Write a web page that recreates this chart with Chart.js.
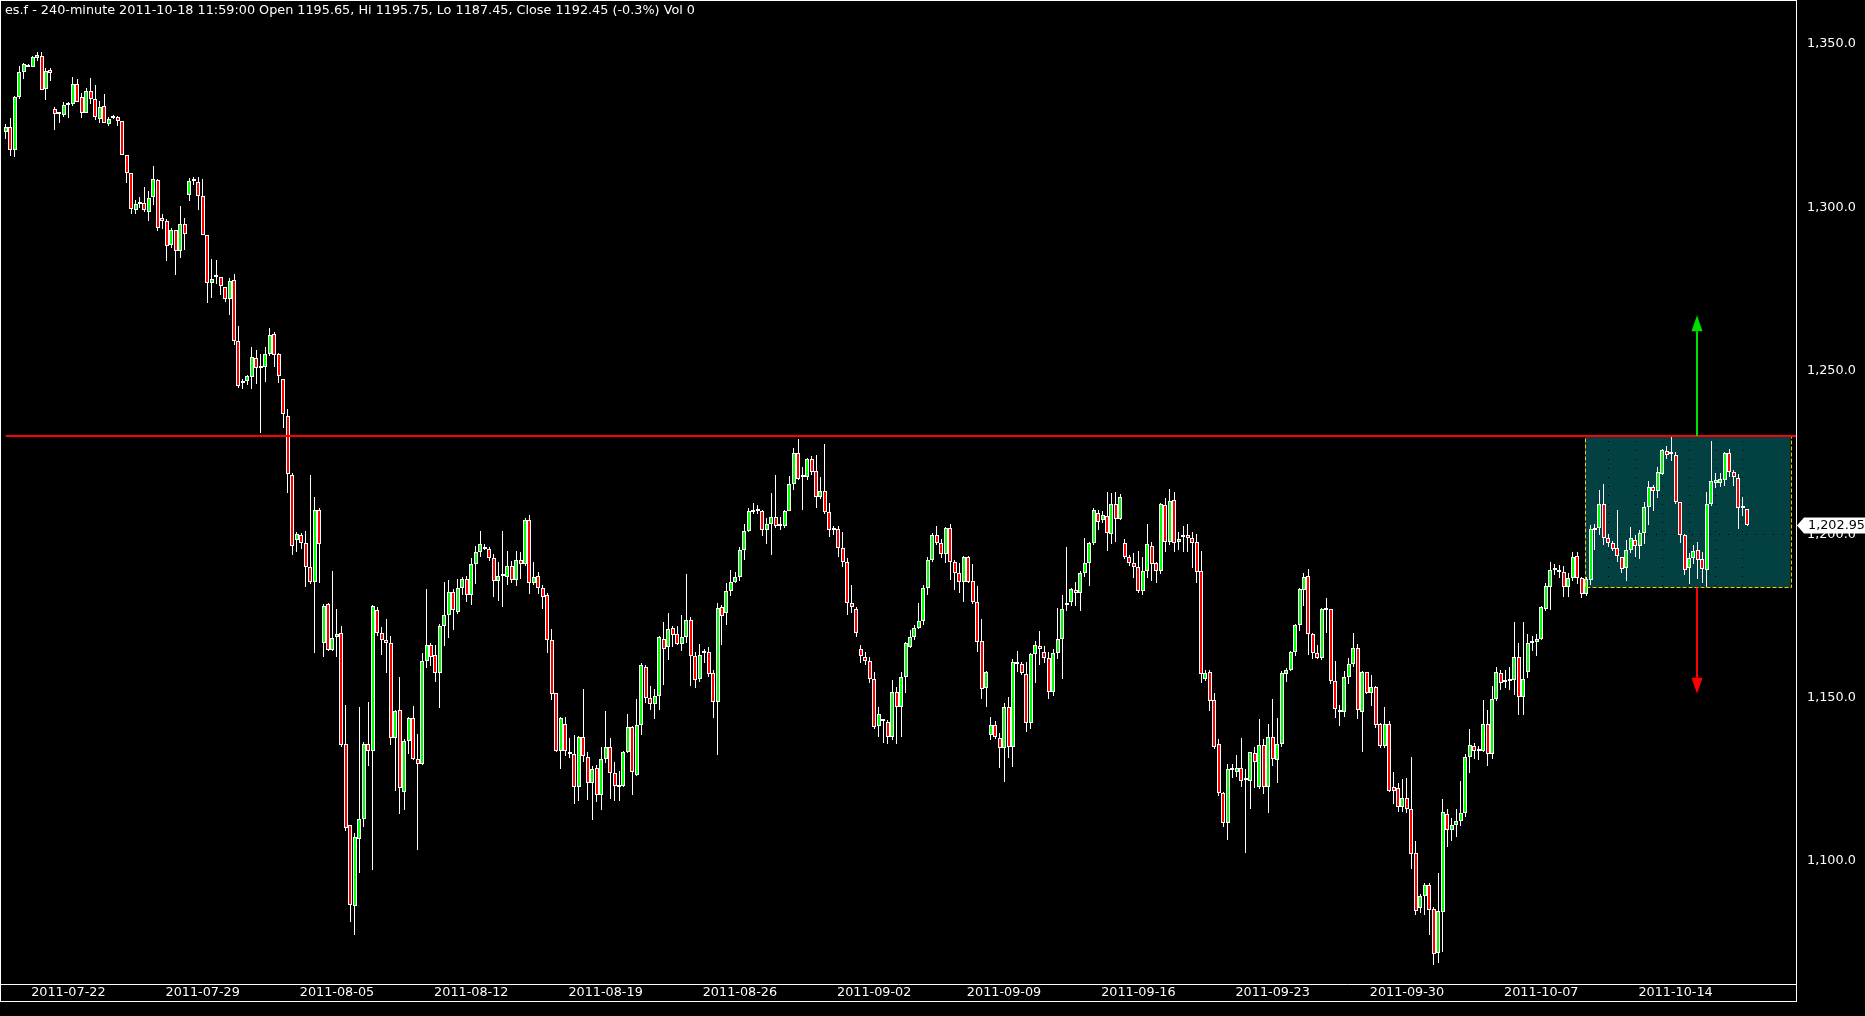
<!DOCTYPE html>
<html>
<head>
<meta charset="utf-8">
<script src="https://cdn.jsdelivr.net/npm/chart.js@4/dist/chart.umd.min.js"></script>
<style>
html,body{margin:0;padding:0;background:#000;overflow:hidden}
#wrap{width:1865px;height:1016px;position:relative}
canvas{display:block}
</style>
</head>
<body>
<div id="wrap"><canvas id="c" width="1865" height="1016"></canvas></div>
<script>
// ---------------- data ----------------
const headerText = 'es.f - 240-minute 2011-10-18 11:59:00 Open 1195.65, Hi 1195.75, Lo 1187.45, Close 1192.45 (-0.3%) Vol 0';

const dateLabels = ['2011-07-22','2011-07-29','2011-08-05','2011-08-12','2011-08-19','2011-08-26','2011-09-02','2011-09-09','2011-09-16','2011-09-23','2011-09-30','2011-10-07','2011-10-14'];
const dateLabelIndex = [14, 44, 74, 104, 134, 164, 194, 223, 253, 283, 313, 343, 373];
const priceTicks = [1100, 1150, 1200, 1250, 1300, 1350];

const opens = [
1323.0,1324.5,1317.6,1333.7,1341.3,1343.6,1342.9,1345.7,1346.3,1336.3,
1341.9,1330.0,1328.6,1328.2,1331.4,1331.5,1337.7,1333.8,1328.8,1335.5,
1333.1,1326.9,1330.9,1325.4,1327.3,1327.6,1326.4,1315.9,1310.6,1299.2,
1301.2,1301.4,1298.7,1303.3,1308.4,1296.6,1295.8,1288.6,1293.1,1286.6,
1294.8,1303.7,1308.2,1307.9,1303.6,1291.4,1276.8,1278.8,1278.8,1275.7,
1271.9,1277.7,1259.0,1246.2,1246.8,1248.2,1253.8,1250.8,1251.1,1255.1,
1261.2,1255.0,1247.5,1236.2,1218.0,1198.2,1199.7,1197.3,1189.9,1185.3,
1207.5,1166.6,1178.5,1164.7,1168.4,1169.7,1135.9,1110.9,1086.1,1106.7,
1112.7,1135.9,1133.6,1176.7,1169.7,1167.5,1166.6,1137.7,1146.2,1121.1,
1136.7,1143.7,1131.2,1129.7,1161.1,1166.0,1162.9,1157.4,1172.0,1175.2,
1182.2,1176.3,1183.4,1186.3,1181.3,1190.8,1194.5,1196.2,1195.5,1192.7,
1185.7,1187.2,1186.9,1190.2,1186.0,1192.0,1190.8,1204.3,1185.0,1187.2,
1183.4,1181.3,1167.5,1151.3,1133.8,1141.8,1133.5,1132.6,1122.5,1137.9,
1131.9,1123.8,1128.4,1120.1,1131.3,1135.0,1127.0,1123.0,1123.0,1133.5,
1141.1,1126.3,1141.5,1159.5,1149.8,1148.1,1150.6,1168.0,1165.6,1171.2,
1169.5,1166.4,1168.4,1173.6,1162.8,1155.8,1163.6,1163.9,1157.4,1148.6,
1177.6,1175.8,1182.7,1185.5,1187.0,1195.1,1201.1,1206.8,1207.6,1207.0,
1201.3,1203.0,1205.2,1202.5,1202.5,1207.2,1215.3,1224.7,1217.6,1217.4,
1223.1,1219.3,1211.3,1213.3,1206.9,1201.5,1201.5,1195.7,1191.6,1178.8,
1177.0,1164.8,1162.5,1161.2,1155.6,1141.4,1142.8,1142.4,1137.8,1151.8,
1147.0,1156.2,1165.6,1168.6,1171.4,1173.3,1183.4,1192.1,1199.9,1197.2,
1193.8,1201.8,1191.6,1188.2,1185.3,1192.9,1185.7,1179.3,1167.3,1152.8,
1138.5,1141.7,1137.5,1134.5,1147.0,1134.8,1160.5,1160.2,1157.1,1142.1,
1163.2,1165.9,1164.1,1162.0,1151.6,1163.5,1168.0,1178.2,1179.3,1183.0,
1181.9,1188.2,1191.3,1197.2,1206.6,1204.3,1205.6,1200.0,1209.2,1204.6,
1197.2,1193.1,1191.1,1190.1,1182.7,1188.7,1196.4,1191.1,1188.8,1208.9,
1197.7,1210.4,1197.7,1199.0,1199.8,1198.8,1197.5,1188.7,1155.6,1157.7,
1149.3,1135.8,1120.7,1111.5,1128.4,1127.2,1128.6,1124.7,1124.6,1133.0,
1122.7,1135.4,1122.5,1138.0,1130.9,1135.7,1157.2,1158.4,1163.9,1172.2,
1182.9,1187.2,1169.6,1163.5,1162.0,1176.8,1177.0,1155.2,1145.7,1145.5,
1156.4,1160.2,1165.3,1145.7,1157.7,1151.3,1153.2,1141.9,1135.2,1141.9,
1122.5,1122.2,1116.4,1119.2,1115.8,1102.3,1085.7,1089.4,1092.7,1085.3,
1071.8,1084.4,1114.3,1109.5,1111.1,1112.2,1114.7,1131.7,1135.2,1133.6,
1133.6,1142.0,1132.8,1149.6,1157.6,1154.7,1155.1,1155.3,1162.3,1150.1,
1157.7,1166.6,1166.9,1167.8,1177.2,1183.8,1189.0,1188.6,1188.4,1183.8,
1186.6,1193.2,1186.6,1181.8,1186.0,1201.2,1202.0,1209.3,1198.9,1197.2,
1195.9,1192.9,1189.6,1195.3,1198.1,1196.5,1200.3,1208.3,1214.3,1213.1,
1218.3,1225.4,1224.5,1224.1,1209.7,1199.9,1189.6,1192.7,1195.3,1192.3,
1189.0,1209.2,1215.8,1215.8,1216.6,1224.7,1218.9,1217.1,1208.1,1207.6
];
const highs = [
1325.4,1327.3,1334.1,1343.3,1344.3,1344.0,1346.2,1347.5,1347.5,1342.5,
1342.5,1330.7,1328.6,1332.3,1332.2,1339.9,1339.3,1334.9,1336.4,1339.5,
1337.4,1332.5,1334.7,1327.6,1328.2,1327.9,1326.4,1315.9,1310.6,1302.2,
1303.3,1306.2,1305.0,1312.7,1308.6,1297.9,1296.3,1293.8,1293.1,1300.4,
1296.9,1309.0,1309.2,1309.4,1308.6,1291.4,1284.3,1284.0,1278.8,1275.7,
1278.4,1279.6,1263.7,1247.6,1248.6,1257.3,1256.4,1255.1,1257.2,1263.1,
1262.0,1255.5,1247.5,1238.3,1218.6,1200.6,1200.4,1201.1,1218.0,1211.5,
1208.0,1178.6,1179.0,1188.6,1177.0,1172.0,1147.8,1110.9,1108.5,1147.2,
1136.5,1148.6,1178.4,1177.7,1171.7,1174.1,1168.8,1146.2,1156.2,1137.3,
1144.0,1147.5,1138.9,1163.5,1183.1,1166.6,1166.0,1172.5,1185.3,1185.9,
1183.1,1186.2,1186.8,1187.1,1192.6,1196.5,1200.9,1196.9,1196.0,1193.9,
1191.4,1201.0,1195.0,1191.7,1194.9,1194.6,1205.0,1205.8,1191.6,1188.4,
1184.5,1181.9,1170.9,1151.3,1144.2,1144.2,1137.6,1138.5,1138.2,1152.6,
1133.5,1129.2,1129.5,1134.8,1145.8,1137.5,1130.4,1127.6,1133.8,1145.0,
1141.4,1149.6,1160.7,1159.9,1153.4,1152.6,1168.8,1173.1,1176.0,1171.9,
1171.9,1175.3,1187.8,1174.7,1164.0,1166.4,1164.9,1165.5,1158.4,1178.9,
1178.2,1185.0,1189.0,1188.5,1196.0,1203.1,1208.0,1209.5,1209.0,1207.5,
1205.0,1212.6,1218.1,1205.4,1207.5,1217.9,1226.4,1229.1,1220.6,1223.3,
1224.0,1224.3,1217.6,1227.6,1209.5,1202.5,1202.5,1200.6,1192.7,1184.6,
1177.6,1166.1,1163.9,1162.4,1157.9,1147.1,1143.5,1143.1,1155.5,1153.1,
1157.7,1167.0,1170.7,1172.3,1178.9,1184.5,1193.0,1200.3,1202.5,1198.5,
1202.2,1203.1,1192.0,1191.1,1193.4,1193.4,1190.8,1184.2,1174.2,1158.1,
1144.0,1142.9,1139.3,1148.3,1150.1,1161.7,1164.3,1161.0,1160.8,1163.7,
1167.4,1170.3,1165.7,1163.9,1164.8,1177.5,1181.5,1196.0,1183.6,1185.3,
1188.6,1198.9,1197.6,1207.9,1207.4,1207.0,1213.0,1212.6,1213.0,1212.3,
1198.5,1193.5,1194.1,1195.0,1193.0,1203.1,1197.6,1191.6,1209.5,1211.1,
1213.8,1212.9,1200.8,1202.5,1203.1,1200.8,1200.1,1194.8,1158.3,1158.5,
1151.4,1137.2,1121.0,1129.6,1129.8,1132.4,1137.6,1128.1,1133.4,1134.9,
1143.5,1137.2,1141.9,1149.6,1143.8,1158.1,1159.0,1164.2,1172.6,1183.6,
1188.1,1189.3,1169.9,1166.1,1177.4,1180.5,1177.2,1161.3,1147.6,1158.2,
1162.1,1169.9,1166.4,1158.2,1157.9,1157.0,1153.4,1142.1,1147.0,1142.7,
1127.2,1123.8,1125.1,1125.4,1131.8,1106.2,1089.8,1093.3,1093.2,1085.9,
1096.2,1118.9,1116.0,1113.3,1115.9,1124.6,1132.8,1140.4,1136.0,1135.2,
1149.3,1146.2,1153.6,1159.5,1158.4,1158.4,1159.3,1173.2,1166.8,1173.2,
1169.5,1168.7,1169.5,1177.9,1185.2,1191.4,1190.9,1190.5,1190.3,1188.1,
1194.5,1194.7,1186.8,1187.0,1202.7,1203.1,1213.6,1215.3,1200.2,1198.0,
1207.5,1193.1,1198.1,1202.2,1199.6,1201.4,1209.8,1216.2,1215.2,1220.6,
1226.2,1227.0,1229.8,1225.2,1209.9,1200.1,1194.3,1196.6,1197.6,1194.7,
1213.0,1228.5,1218.6,1218.6,1225.1,1226.1,1219.6,1218.3,1211.5,1207.8
];
const lows = [
1320.8,1315.8,1315.5,1333.2,1339.4,1342.9,1342.9,1344.7,1335.8,1333.0,
1338.8,1323.7,1325.7,1327.6,1327.2,1331.0,1332.4,1327.2,1328.8,1331.7,
1326.6,1325.9,1325.7,1325.0,1327.0,1325.0,1315.9,1307.6,1298.1,1298.1,
1299.7,1298.7,1295.9,1300.7,1292.9,1293.3,1283.7,1287.7,1279.3,1284.6,
1287.0,1302.1,1307.0,1299.3,1291.4,1270.6,1272.3,1276.7,1273.2,1271.2,
1267.2,1258.0,1244.8,1244.5,1245.5,1244.5,1246.1,1231.1,1246.7,1254.6,
1251.3,1246.4,1232.5,1212.7,1193.5,1194.6,1195.4,1183.8,1184.8,1163.7,
1185.0,1162.4,1164.2,1164.2,1162.3,1135.0,1109.3,1081.2,1077.3,1096.3,
1110.5,1129.2,1097.1,1168.9,1162.9,1157.5,1135.5,1121.3,1114.5,1115.7,
1132.7,1130.8,1103.3,1129.3,1159.2,1159.6,1154.9,1146.7,1165.9,1168.1,
1170.7,1175.5,1181.4,1179.3,1178.4,1184.7,1192.9,1195.1,1191.7,1180.9,
1179.6,1177.7,1184.6,1185.2,1184.0,1186.2,1190.3,1181.8,1184.5,1181.8,
1177.0,1163.5,1149.4,1133.5,1128.2,1132.0,1131.6,1117.5,1118.4,1130.3,
1118.8,1112.4,1118.1,1115.6,1130.0,1119.1,1118.4,1118.4,1122.5,1133.0,
1120.3,1126.0,1138.5,1148.3,1146.2,1143.4,1146.3,1153.7,1161.5,1165.5,
1166.0,1164.4,1166.7,1153.6,1153.0,1154.9,1160.7,1156.4,1143.8,1132.5,
1166.1,1172.3,1181.2,1185.0,1185.6,1192.0,1200.7,1206.2,1206.2,1199.3,
1196.9,1193.6,1201.9,1201.3,1202.0,1207.0,1213.6,1216.5,1207.5,1216.6,
1218.0,1208.0,1210.9,1206.2,1199.2,1199.7,1193.0,1189.9,1175.3,1175.9,
1168.4,1160.5,1159.9,1154.4,1140.5,1138.0,1136.2,1135.9,1136.9,1135.8,
1138.0,1151.5,1165.3,1167.5,1170.9,1172.3,1181.3,1191.5,1196.7,1192.7,
1191.2,1186.1,1183.0,1182.1,1179.3,1185.0,1178.6,1164.0,1149.6,1147.0,
1136.9,1137.3,1128.6,1124.2,1131.6,1128.8,1157.9,1156.8,1139.6,1140.3,
1154.5,1160.1,1160.5,1149.5,1150.6,1161.9,1155.8,1176.5,1178.0,1178.1,
1176.6,1187.0,1184.2,1196.8,1201.3,1203.4,1194.9,1196.9,1197.6,1204.2,
1192.4,1190.4,1186.6,1182.0,1181.5,1186.7,1185.6,1185.2,1187.9,1194.6,
1196.7,1194.6,1195.1,1194.6,1194.7,1189.7,1185.2,1154.6,1155.0,1146.0,
1134.3,1119.9,1110.5,1106.5,1125.3,1125.8,1122.7,1102.3,1116.0,1122.2,
1122.0,1120.5,1114.8,1129.0,1124.0,1134.9,1154.9,1158.0,1162.6,1170.3,
1178.0,1162.9,1161.9,1161.8,1161.5,1169.8,1154.1,1143.9,1141.2,1144.0,
1154.3,1159.3,1143.3,1133.4,1151.0,1147.3,1140.7,1134.6,1134.7,1121.0,
1117.4,1115.0,1115.0,1114.7,1097.6,1083.6,1084.0,1083.6,1077.3,1068.3,
1068.7,1072.3,1104.3,1106.2,1107.4,1110.7,1113.6,1126.8,1131.2,1131.0,
1133.3,1129.2,1131.1,1148.9,1152.4,1153.0,1152.3,1150.8,1144.8,1144.8,
1156.0,1164.4,1162.6,1167.6,1176.6,1176.9,1187.4,1186.5,1180.9,1180.9,
1185.6,1184.8,1180.4,1181.0,1184.6,1195.2,1199.6,1196.8,1196.1,1195.0,
1191.6,1188.2,1185.8,1194.2,1193.1,1192.5,1196.9,1202.8,1207.2,1211.2,
1218.0,1222.9,1222.5,1209.3,1197.4,1187.5,1184.9,1191.0,1186.4,1185.2,
1183.9,1208.5,1214.2,1214.5,1214.7,1217.4,1214.6,1201.6,1205.7,1202.5
];
const closes = [
1324.7,1317.6,1333.7,1341.3,1343.8,1343.1,1345.9,1346.5,1335.8,1341.7,
1341.0,1328.5,1328.5,1331.2,1331.6,1337.7,1332.4,1328.8,1335.5,1333.1,
1327.6,1330.6,1325.7,1327.0,1327.6,1326.4,1315.9,1310.6,1299.4,1301.0,
1301.0,1299.1,1302.8,1308.6,1293.8,1295.7,1288.3,1293.1,1286.8,1294.8,
1291.8,1308.2,1308.1,1303.6,1291.4,1276.8,1278.0,1278.9,1276.0,1271.9,
1277.4,1259.0,1245.3,1247.0,1248.3,1254.1,1250.8,1250.9,1255.1,1261.1,
1254.8,1248.3,1236.8,1218.5,1196.5,1200.0,1197.3,1189.9,1185.3,1207.5,
1197.0,1178.1,1164.7,1168.1,1169.4,1135.5,1110.0,1086.4,1107.2,1112.7,
1135.9,1133.6,1177.9,1169.7,1167.5,1166.6,1137.7,1145.9,1122.3,1136.7,
1143.7,1131.2,1129.7,1161.1,1166.2,1162.3,1157.4,1172.0,1175.4,1182.2,
1176.8,1183.4,1186.3,1181.3,1190.8,1194.5,1197.1,1195.5,1192.7,1185.7,
1187.1,1187.3,1190.2,1186.0,1192.0,1190.8,1204.3,1185.0,1186.9,1183.4,
1180.7,1167.5,1151.1,1133.8,1143.7,1133.8,1132.6,1122.7,1138.0,1132.2,
1123.8,1128.1,1120.1,1131.1,1135.0,1126.8,1122.9,1122.7,1133.5,1141.1,
1127.3,1141.5,1159.9,1150.0,1147.9,1150.6,1168.5,1165.0,1170.9,1169.2,
1166.4,1168.6,1173.6,1162.8,1155.5,1163.0,1163.5,1157.1,1148.8,1177.3,
1175.1,1182.7,1185.3,1186.8,1195.1,1201.0,1207.0,1207.4,1207.0,1201.3,
1203.0,1205.2,1202.5,1202.6,1207.2,1215.3,1224.7,1216.8,1217.5,1222.9,
1219.1,1211.3,1213.3,1206.9,1201.3,1201.3,1195.7,1191.6,1178.8,1177.6,
1169.7,1162.7,1161.1,1155.6,1141.1,1144.9,1142.9,1138.0,1151.8,1147.2,
1156.2,1166.6,1168.6,1171.2,1173.3,1183.4,1192.1,1199.9,1197.2,1193.8,
1201.8,1191.6,1188.2,1185.3,1192.9,1185.5,1179.1,1167.1,1152.6,1157.7,
1141.7,1137.8,1134.5,1147.0,1134.8,1160.8,1160.2,1157.4,1142.1,1163.2,
1166.0,1164.8,1162.0,1151.6,1163.5,1168.0,1177.2,1179.0,1183.1,1181.9,
1188.2,1191.3,1197.2,1207.4,1203.7,1205.9,1200.3,1209.2,1204.5,1211.5,
1193.1,1191.1,1190.1,1182.7,1188.7,1196.9,1190.8,1188.8,1209.2,1197.7,
1210.2,1197.2,1198.5,1199.8,1198.8,1197.4,1188.5,1157.2,1157.6,1149.1,
1135.0,1120.7,1111.5,1128.0,1127.7,1128.4,1124.6,1124.8,1133.2,1130.2,
1135.4,1122.5,1138.0,1131.1,1135.7,1157.4,1158.4,1163.9,1172.2,1183.2,
1187.0,1169.4,1163.5,1162.0,1177.0,1176.9,1155.2,1146.4,1145.8,1156.4,
1160.2,1165.3,1146.2,1157.9,1151.3,1153.2,1141.6,1135.2,1141.9,1121.5,
1121.3,1116.6,1119.2,1115.8,1102.2,1084.6,1089.4,1092.7,1085.1,1071.6,
1084.6,1114.9,1109.5,1111.1,1112.2,1114.7,1131.7,1135.5,1133.6,1133.8,
1142.0,1132.6,1149.6,1157.7,1154.4,1154.9,1155.3,1162.3,1150.1,1155.6,
1166.6,1167.1,1168.0,1177.7,1184.1,1189.0,1189.1,1188.5,1183.8,1186.6,
1193.1,1186.6,1181.8,1186.4,1201.5,1201.8,1209.3,1198.9,1197.2,1195.6,
1193.2,1189.3,1195.3,1198.9,1196.5,1200.5,1208.3,1214.3,1213.1,1219.1,
1225.9,1224.3,1224.6,1209.7,1199.9,1189.1,1192.7,1195.0,1192.0,1189.2,
1209.2,1216.3,1216.6,1216.8,1224.7,1218.9,1217.4,1208.1,1208.2,1202.95
];

// annotations (data coordinates)
const resistanceLevel = 1230;
const rangeStartIndex = 352.8;
const rangeEndIndex = 398.7;
const rangeLow = 1183.7;
const rangeHigh = 1230;
const arrowIndex = 377.7;
const targetUp = 1267;
const targetDown = 1151.2;
const lastPrice = 1202.95;

// axis ranges
const xMin = -1.27, xMax = 399.9;
const yMin = 1062.36, yMax = 1363.46;

// ---------------- styling ----------------
const UP = '#00ff00';
const DOWN = '#ff0000';
const FONT_FAMILY = "'DejaVu Sans', 'Verdana', sans-serif";
const FONT_SIZE = 12.8;
const FONT = {family: FONT_FAMILY, size: FONT_SIZE};

const wickData = lows.map((l, i) => ({x: i, y: [l, highs[i]]}));
const bodyData = opens.map((o, i) => ({x: i, y: [o, closes[i]]}));
const bodyColors = opens.map((o, i) => closes[i] >= o ? UP : DOWN);

const dayGridIndex = [];
for (let g = 4; g < closes.length; g += 6) dayGridIndex.push(g);
const xTickValues = dayGridIndex.concat(dateLabelIndex).sort((a, b) => a - b);

const fmtPrice = v => Number(v).toLocaleString('en-US', {minimumFractionDigits: 1, maximumFractionDigits: 1});

// snap bar elements to whole pixels so candles render crisp like the original
const pixelSnap = {
  id: 'pixelSnap',
  beforeDatasetsDraw(chart) {
    chart.data.datasets.forEach((ds, di) => {
      const meta = chart.getDatasetMeta(di);
      meta.data.forEach(el => {
        const w = el.width;
        const left = Math.round(el.x - w / 2);
        el.x = left + w / 2;
        el.y = Math.round(el.y);
        el.base = Math.round(el.base);
        if (el.y === el.base) { el.base = el.y + 1; }
      });
    });
  }
};

const overlay = {
  id: 'overlay',
  beforeDraw(chart) {
    const {ctx, scales: {x, y}} = chart;
    ctx.save();
    ctx.fillStyle = '#000';
    ctx.fillRect(0, 0, chart.width, chart.height);
    const x0 = x.getPixelForValue(rangeStartIndex), x1 = x.getPixelForValue(rangeEndIndex);
    const y0 = y.getPixelForValue(rangeHigh), y1 = y.getPixelForValue(rangeLow);
    ctx.fillStyle = '#034041';
    ctx.fillRect(x0, y0, x1 - x0, y1 - y0);
    ctx.restore();
  },
  afterDatasetsDraw(chart) {
    const {ctx, chartArea, scales: {x, y}} = chart;
    ctx.save();
    const x0 = Math.round(x.getPixelForValue(rangeStartIndex)) + 0.5;
    const x1 = Math.round(x.getPixelForValue(rangeEndIndex)) + 0.5;
    const y0 = Math.round(y.getPixelForValue(rangeHigh)) + 0.5;
    const y1 = Math.round(y.getPixelForValue(rangeLow)) + 0.5;
    ctx.strokeStyle = '#ffc800';
    ctx.lineWidth = 1;
    ctx.setLineDash([4, 2]);
    ctx.strokeRect(x0, y0, x1 - x0, y1 - y0);
    ctx.setLineDash([]);
    const ry = Math.round(y.getPixelForValue(resistanceLevel));
    ctx.strokeStyle = '#ff0000';
    ctx.lineWidth = 2;
    ctx.beginPath();
    ctx.moveTo(x.getPixelForValue(0), ry);
    ctx.lineTo(chartArea.right, ry);
    ctx.stroke();
    const ax = Math.round(x.getPixelForValue(arrowIndex));
    const drawArrow = (fromY, tipY, color) => {
      const dir = tipY < fromY ? -1 : 1;
      const baseY = tipY - dir * 16;
      ctx.strokeStyle = color;
      ctx.fillStyle = color;
      ctx.lineWidth = 2;
      ctx.beginPath();
      ctx.moveTo(ax, fromY);
      ctx.lineTo(ax, baseY);
      ctx.stroke();
      ctx.beginPath();
      ctx.moveTo(ax, tipY);
      ctx.lineTo(ax - 5.5, baseY);
      ctx.lineTo(ax + 5.5, baseY);
      ctx.closePath();
      ctx.fill();
    };
    drawArrow(ry, y.getPixelForValue(targetUp), '#00e000');
    drawArrow(y.getPixelForValue(rangeLow), y.getPixelForValue(targetDown), '#ff0000');
    ctx.restore();
  },
  afterDraw(chart) {
    const {ctx, chartArea, scales: {y}} = chart;
    ctx.save();
    ctx.strokeStyle = '#ffffff';
    ctx.lineWidth = 1;
    ctx.strokeRect(0.5, 0.5, chartArea.right, 1001);
    ctx.beginPath();
    ctx.moveTo(0, chartArea.bottom + 0.5);
    ctx.lineTo(chartArea.right + 1, chartArea.bottom + 0.5);
    ctx.stroke();
    ctx.font = FONT_SIZE + 'px ' + FONT_FAMILY;
    ctx.fillStyle = '#ffffff';
    ctx.textBaseline = 'alphabetic';
    ctx.textAlign = 'left';
    ctx.fillText(headerText, 5, 14);
    const py = Math.round(y.getPixelForValue(lastPrice)) + 0.5;
    const tx = chartArea.right + 1;
    ctx.fillStyle = '#ffffff';
    ctx.beginPath();
    ctx.moveTo(tx, py);
    ctx.lineTo(tx + 7, py - 8);
    ctx.lineTo(chart.width, py - 8);
    ctx.lineTo(chart.width, py + 8);
    ctx.lineTo(tx + 7, py + 8);
    ctx.closePath();
    ctx.fill();
    ctx.fillStyle = '#000000';
    ctx.textBaseline = 'middle';
    ctx.fillText(lastPrice.toLocaleString('en-US', {minimumFractionDigits: 2}), tx + 11, py + 0.5);
    ctx.restore();
  }
};

new Chart(document.getElementById('c'), {
  type: 'bar',
  data: {
    datasets: [
      {
        label: 'range',
        data: wickData,
        backgroundColor: '#ffffff',
        borderWidth: 0,
        barThickness: 1,
        maxBarThickness: 1,
        grouped: false,
        order: 2,
        inflateAmount: 0
      },
      {
        label: 'body',
        data: bodyData,
        backgroundColor: bodyColors,
        borderColor: '#ffffff',
        borderWidth: 1,
        borderSkipped: false,
        barThickness: 4,
        maxBarThickness: 4,
        minBarLength: 2,
        grouped: false,
        order: 1,
        inflateAmount: 0
      }
    ]
  },
  options: {
    responsive: false,
    animation: false,
    devicePixelRatio: 1,
    events: [],
    layout: {padding: 0},
    plugins: {legend: {display: false}, tooltip: {enabled: false}, title: {display: false}},
    scales: {
      x: {
        type: 'linear',
        position: 'bottom',
        min: xMin,
        max: xMax,
        offset: false,
        afterBuildTicks(scale) { scale.ticks = xTickValues.map(v => ({value: v})); },
        afterFit(scale) { scale.height = 32; scale.paddingLeft = 0; scale.paddingRight = 0; },
        ticks: {
          autoSkip: false, maxRotation: 0, minRotation: 0, padding: 1,
          color: '#ffffff', font: FONT,
          callback(v) { const k = dateLabelIndex.indexOf(v); return k >= 0 ? dateLabels[k] : ''; }
        },
        grid: {
          offset: false, drawTicks: false, lineWidth: 1,
          color(c) { return (c.tick && dateLabelIndex.includes(c.tick.value)) ? 'rgba(0,0,0,0)' : '#000000'; }
        },
        border: {display: false, dash: [1, 8]}
      },
      y: {
        type: 'linear',
        position: 'right',
        min: yMin,
        max: yMax,
        afterBuildTicks(scale) { scale.ticks = priceTicks.map(v => ({value: v})); },
        afterFit(scale) { scale.width = 69; scale.paddingTop = 0; scale.paddingBottom = 0; },
        ticks: {padding: 11, color: '#ffffff', font: FONT, callback: v => fmtPrice(v)},
        grid: {drawTicks: false, color: '#000000', lineWidth: 1},
        border: {display: false, dash: [1, 8]}
      }
    }
  },
  plugins: [pixelSnap, overlay]
});
</script>
</body>
</html>
